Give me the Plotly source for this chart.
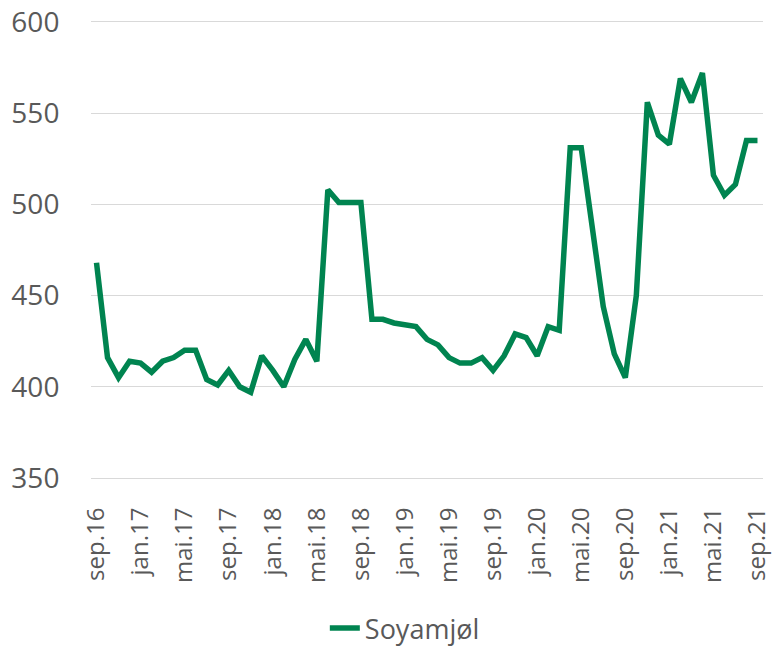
import plotly.graph_objs as go

# månedlige noteringer, sep.16 - sep.21
months = ['jan', 'feb', 'mar', 'apr', 'mai', 'jun', 'jul', 'aug', 'sep', 'okt', 'nov', 'des']
periods = []
for year in range(16, 22):
    for m in months:
        periods.append('%s.%d' % (m, year))
periods = periods[8:8 + 61]

soyamjol = [468, 416, 405, 414, 413, 408, 414, 416, 420, 420,
            404, 401, 409, 400, 397, 417, 409, 400, 415, 426,
            414, 508, 501, 501, 501, 437, 437, 435, 434, 433,
            426, 423, 416, 413, 413, 416, 409, 417, 429, 427,
            417, 433, 431, 531, 531, 490, 444, 418, 405, 450,
            556, 538, 533, 569, 556, 572, 516, 505, 511, 535,
            535]

tick_labels = periods[::4]

font = 'Open Sans, DejaVu Sans, sans-serif'
grey = '#595959'

fig = go.Figure()
fig.add_scatter(x=periods, y=soyamjol, mode='lines', name='Soyamjøl',
                line=dict(color='#008450', width=5.5))

fig.update_layout(
    width=777, height=647,
    margin=dict(l=91, r=14, t=22, b=169, autoexpand=False),
    paper_bgcolor='white', plot_bgcolor='white',
    font=dict(family=font, color=grey, size=26),
    showlegend=True,
    legend=dict(orientation='h', x=0.467, xanchor='center', y=-0.33, yanchor='middle',
                font=dict(size=27, color=grey)),
    xaxis=dict(type='category', range=[-0.5, 60.5], tickmode='array',
               tickvals=tick_labels, ticktext=tick_labels, tickangle=-90,
               ticks='outside', ticklen=19, tickcolor='rgba(0,0,0,0)',
               showgrid=False, showline=True, linecolor='#D9D9D9', linewidth=1,
               mirror=True, automargin=False, tickfont=dict(size=24)),
    yaxis=dict(range=[350, 600], dtick=50, showgrid=True, gridcolor='#D9D9D9',
               gridwidth=1, zeroline=False, ticks='outside', ticklen=25,
               tickcolor='rgba(0,0,0,0)', automargin=False, tickfont=dict(size=28)),
)

# fjern standard body-marg så figuren ligger i hjørnet
fig.write_html('out.html', config={'displayModeBar': False},
               post_script="document.body.style.margin='0';")
